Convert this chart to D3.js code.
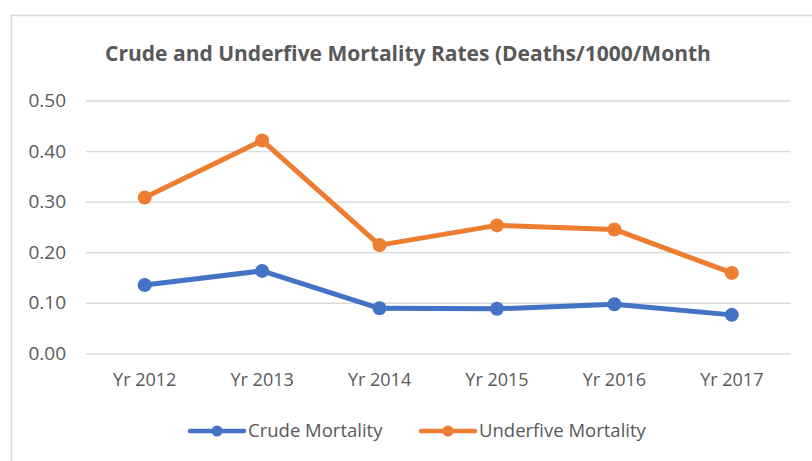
<!DOCTYPE html>
<html>
<head>
<meta charset="utf-8">
<script src="https://cdn.jsdelivr.net/npm/d3@7"></script>
<style>
  body { margin: 0; background: #fff; }
  svg { display: block; }
</style>
</head>
<body>
<svg id="chart" width="812" height="461"></svg>
<script>
// data
let years = ["Yr 2012", "Yr 2013", "Yr 2014", "Yr 2015", "Yr 2016", "Yr 2017"];
let crude = [0.135, 0.163, 0.089, 0.088, 0.097, 0.076];
let underfive = [0.308, 0.421, 0.214, 0.253, 0.245, 0.159];
let yTicks = [0, 0.1, 0.2, 0.3, 0.4, 0.5];
let seriesNames = ["Crude Mortality", "Underfive Mortality"];
let colors = ["#4472C4", "#ED7D31"];

let svg = d3.select("#chart");
let font = "'Open Sans', sans-serif";

// outer chart frame (runs off the page at right/bottom)
svg.append("rect")
    .attr("x", 11.5).attr("y", 15.5)
    .attr("width", 830).attr("height", 470)
    .style("fill", "none")
    .style("stroke", "#d9d9d9")
    .style("stroke-width", 1.6);

let plotLeft = 86, plotRight = 790.5, plotTop = 100.5, plotBottom = 353.3;

let x = d3.scaleBand().domain(years).range([plotLeft, plotRight]);
let y = d3.scaleLinear().domain([0, 0.5]).range([plotBottom, plotTop]);

// title
svg.append("text")
    .attr("x", 408).attr("y", 61)
    .attr("text-anchor", "middle")
    .text("Crude and Underfive Mortality Rates (Deaths/1000/Month")
    .style("font-family", font)
    .style("font-weight", "bold")
    .style("font-size", "21px")
    .style("fill", "#595959");

// gridlines + y labels
let yAxis = svg.append("g")
    .attr("transform", "translate(" + plotLeft + ",0)")
    .call(d3.axisLeft(y).tickValues(yTicks).tickSize(-(plotRight - plotLeft)).tickPadding(20).tickFormat(d3.format(".2f")));
yAxis.select(".domain").remove();
yAxis.selectAll("line").style("stroke", "#d9d9d9").style("stroke-width", 1.3);
yAxis.selectAll("text")
    .style("font-family", font)
    .style("font-size", "19px")
    .style("fill", "#595959");

// x labels
let xAxis = svg.append("g")
    .attr("transform", "translate(0," + plotBottom + ")")
    .call(d3.axisBottom(x).tickSize(0).tickPadding(20));
xAxis.select(".domain").remove();
xAxis.selectAll("text")
    .style("font-family", font)
    .style("font-size", "18px")
    .style("fill", "#595959");

let line = d3.line()
    .x((d, i) => x(years[i]) + x.bandwidth() / 2)
    .y(d => y(d));

[crude, underfive].forEach((vals, k) => {
    svg.append("path")
        .datum(vals)
        .attr("d", line)
        .style("fill", "none")
        .style("stroke", colors[k])
        .style("stroke-width", 5)
        .style("stroke-linejoin", "round")
        .style("stroke-linecap", "round");
    svg.append("g").selectAll("circle")
        .data(vals)
        .enter().append("circle")
        .attr("cx", (d, i) => x(years[i]) + x.bandwidth() / 2)
        .attr("cy", d => y(d))
        .attr("r", 7)
        .style("fill", colors[k]);
});

// legend
let legendX = [190, 421];
let legend = svg.append("g");
seriesNames.forEach((name, k) => {
    let g = legend.append("g").attr("transform", "translate(" + legendX[k] + ",431)");
    g.append("line")
        .attr("x1", 0).attr("x2", 54)
        .style("stroke", colors[k])
        .style("stroke-width", 4.5)
        .style("stroke-linecap", "round");
    g.append("circle")
        .attr("cx", 27).attr("cy", 0).attr("r", 5.5)
        .style("fill", colors[k]);
    g.append("text")
        .attr("x", 58).attr("y", 6)
        .text(name)
        .style("font-family", font)
        .style("font-size", "18.5px")
        .style("fill", "#595959");
});
</script>
</body>
</html>
